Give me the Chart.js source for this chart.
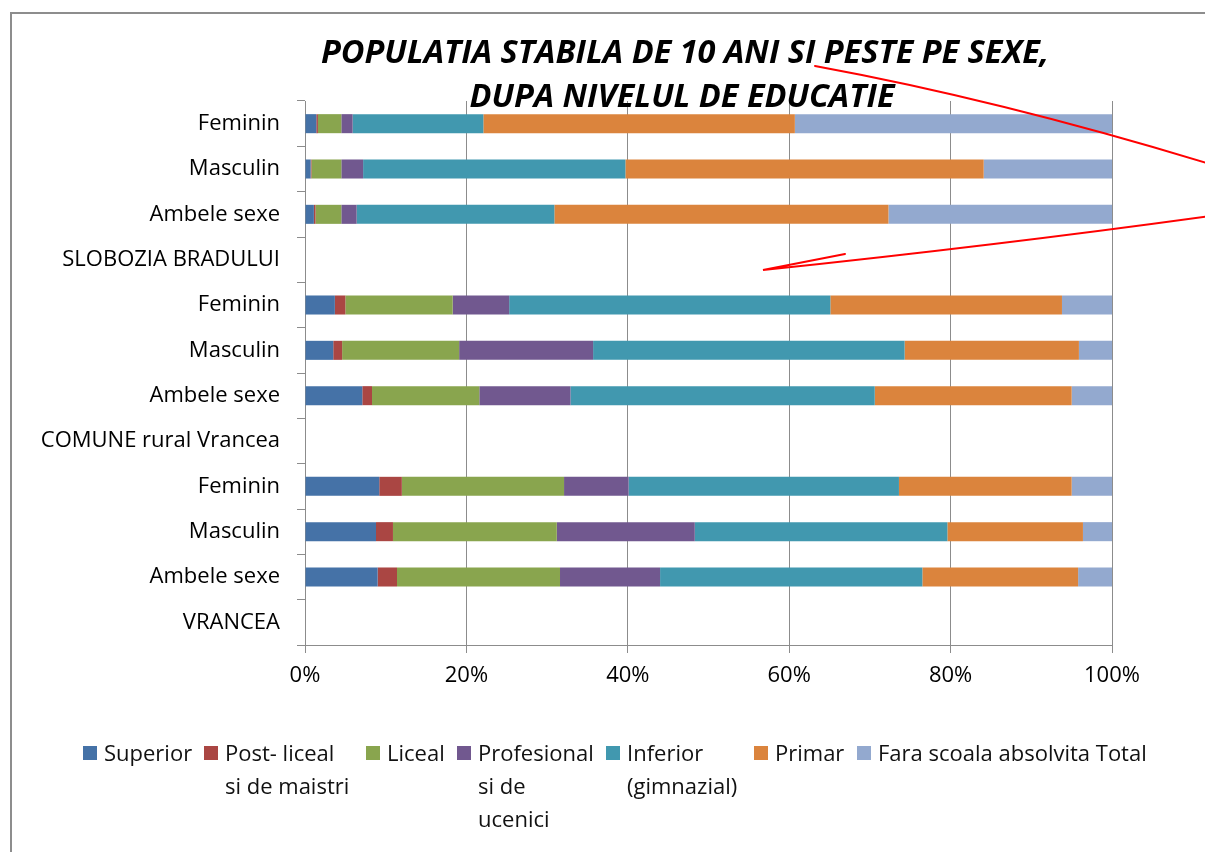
<!DOCTYPE html>
<html>
<head>
<meta charset="utf-8">
<script src="https://cdn.jsdelivr.net/npm/chart.js@4.4.1/dist/chart.umd.min.js"></script>
<style>
  body { margin: 0; background: #fff; }
  #wrap { position: relative; width: 1205px; height: 852px; overflow: hidden; }
  #frame { position: absolute; left: 10px; top: 12px; width: 1400px; height: 1000px;
           border-left: 2px solid #8d8d8d; border-top: 2px solid #8d8d8d; }
  #chart { position: absolute; left: 0; top: 0; }
  .leg { position: absolute; top: 736px; font: 22px 'Open Sans', sans-serif; line-height: 33px;
         color: #111; white-space: nowrap; }
  .leg i { position: absolute; left: -21px; top: 10px; width: 14px; height: 14px; }
</style>
</head>
<body>
<div id="wrap">
  <div id="frame"></div>
  <canvas id="chart" width="1205" height="852"></canvas>
  <div id="legend"></div>
</div>
<script>
// Categories, top to bottom
const categories = [
  'Feminin', 'Masculin', 'Ambele sexe', 'SLOBOZIA BRADULUI',
  'Feminin', 'Masculin', 'Ambele sexe', 'COMUNE rural Vrancea',
  'Feminin', 'Masculin', 'Ambele sexe', 'VRANCEA'
];

// Shares in percent, one value per category (null = section label row)
const superior    = [1.4, 0.7, 1.1, null, 3.7, 3.5, 7.1, null, 9.2, 8.8, 9.0, null];
const postLiceal  = [0.2, 0.1, 0.2, null, 1.3, 1.1, 1.2, null, 2.8, 2.1, 2.4, null];
const liceal      = [2.9, 3.7, 3.2, null, 13.3, 14.5, 13.3, null, 20.1, 20.3, 20.2, null];
const profesional = [1.4, 2.7, 1.9, null, 7.0, 16.6, 11.3, null, 8.0, 17.1, 12.4, null];
const inferior    = [16.2, 32.5, 24.5, null, 39.8, 38.6, 37.7, null, 33.5, 31.3, 32.5, null];
const primar      = [38.6, 44.4, 41.4, null, 28.7, 21.6, 24.4, null, 21.4, 16.8, 19.3, null];
const faraScoala  = [39.3, 15.9, 27.7, null, 6.2, 4.1, 5.0, null, 5.0, 3.6, 4.2, null];

const seriesNames = [
  ['Superior'],
  ['Post- liceal', 'si de maistri'],
  ['Liceal'],
  ['Profesional', 'si de', 'ucenici'],
  ['Inferior', '(gimnazial)'],
  ['Primar'],
  ['Fara scoala absolvita Total']
];
const seriesValues = [superior, postLiceal, liceal, profesional, inferior, primar, faraScoala];
const seriesColors = ['#4572a7', '#aa4643', '#89a54e', '#71588f', '#4198af', '#db843d', '#93a9cf'];

const xTicks = [0, 20, 40, 60, 80, 100];
const titleLines = ['POPULATIA STABILA DE 10 ANI SI PESTE PE SEXE,', 'DUPA NIVELUL DE EDUCATIE'];

// legend text left edges
const legendLeft = [104, 225, 387, 478, 627, 775, 878];

const FONT = "'Open Sans', sans-serif";
const GRID = '#8c8c8c';

const titlePlugin = {
  id: 'titleLines',
  afterDraw(chart) {
    const ctx = chart.ctx;
    ctx.save();
    ctx.font = 'italic bold 32.5px ' + FONT;
    ctx.fillStyle = '#000';
    ctx.textAlign = 'center';
    ctx.textBaseline = 'alphabetic';
    ctx.fillText(titleLines[0], 685, 63);
    ctx.fillText(titleLines[1], 682, 107);
    ctx.restore();
  }
};

// red hand-drawn pointer lines over the picture
const penPlugin = {
  id: 'penLines',
  afterDraw(chart) {
    const ctx = chart.ctx;
    ctx.save();
    ctx.strokeStyle = '#ff0000';
    ctx.lineWidth = 2;
    ctx.lineCap = 'round';
    ctx.beginPath();
    ctx.moveTo(815, 66);
    ctx.quadraticCurveTo(1000, 100, 1210, 164);
    ctx.stroke();
    ctx.beginPath();
    ctx.moveTo(1210, 216);
    ctx.quadraticCurveTo(1000, 245, 763, 270);
    ctx.lineTo(845, 254);
    ctx.stroke();
    ctx.restore();
  }
};

new Chart(document.getElementById('chart'), {
  type: 'bar',
  data: {
    labels: categories,
    datasets: seriesValues.map((vals, i) => ({
      label: seriesNames[i].join(' '),
      data: vals,
      backgroundColor: seriesColors[i],
      borderWidth: 0,
      barPercentage: 1,
      categoryPercentage: 0.42
    }))
  },
  options: {
    indexAxis: 'y',
    responsive: false,
    animation: false,
    devicePixelRatio: 1,
    layout: { padding: { left: 0, right: 93, top: 101, bottom: 0 } },
    plugins: {
      legend: { display: false },
      title: { display: false },
      tooltip: { enabled: false }
    },
    scales: {
      x: {
        stacked: true,
        min: 0,
        max: 100,
        afterBuildTicks: s => { s.ticks = xTicks.map(v => ({ value: v })); },
        afterFit: s => { s.height = 852 - 645; },
        ticks: {
          callback: v => v + '%',
          color: '#000',
          padding: 10,
          font: { family: FONT, size: 22 }
        },
        grid: { color: GRID, lineWidth: 1, tickLength: 8 },
        border: { display: true, color: GRID, width: 1 }
      },
      y: {
        stacked: true,
        afterFit: s => { s.width = 305; },
        ticks: {
          color: '#000',
          padding: 17,
          autoSkip: false,
          font: { family: FONT, size: 22 }
        },
        grid: { drawOnChartArea: false, offset: true, color: GRID, tickLength: 8 },
        border: { display: true, color: GRID, width: 1 }
      }
    }
  },
  plugins: [titlePlugin, penPlugin]
});

// legend with wrapped names
const legend = document.getElementById('legend');
seriesNames.forEach((lines, i) => {
  const item = document.createElement('div');
  item.className = 'leg';
  item.style.left = legendLeft[i] + 'px';
  const sw = document.createElement('i');
  sw.style.background = seriesColors[i];
  item.appendChild(sw);
  item.insertAdjacentHTML('beforeend', lines.join('<br>'));
  legend.appendChild(item);
});
</script>
</body>
</html>
